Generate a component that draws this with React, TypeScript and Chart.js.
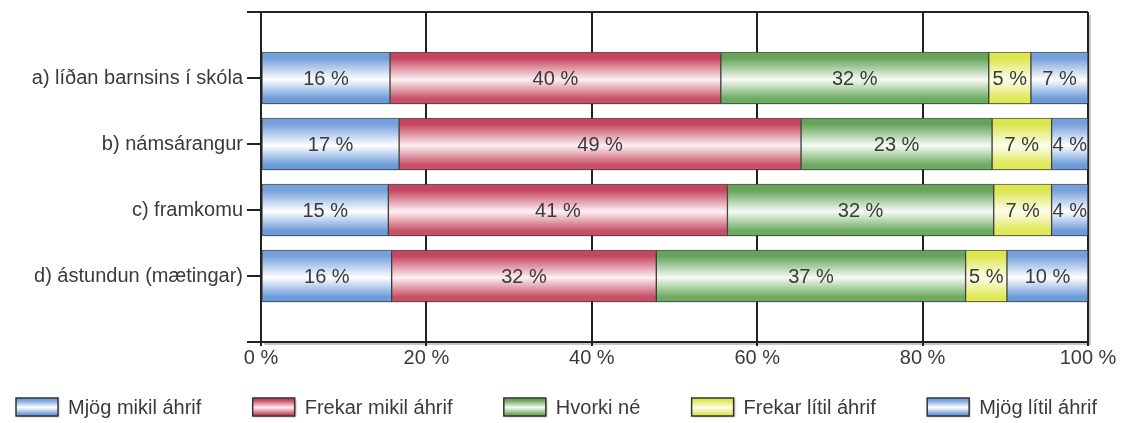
import React, { useEffect, useRef } from 'react';
import { Chart, registerables } from 'chart.js';

Chart.register(...registerables);

// ---------- data ----------
const categories = [
  'a) líðan barnsins í skóla',
  'b) námsárangur',
  'c) framkomu',
  'd) ástundun (mætingar)',
];
const seriesNames = [
  'Mjög mikil áhrif',
  'Frekar mikil áhrif',
  'Hvorki né',
  'Frekar lítil áhrif',
  'Mjög lítil áhrif',
];
const mjogMikil = [15.6, 16.7, 15.4, 15.8];
const frekarMikil = [40.0, 48.6, 41.0, 32.0];
const hvorkiNe = [32.4, 23.1, 32.2, 37.4];
const frekarLitil = [5.1, 7.2, 7.0, 5.0];
const mjogLitil = [6.9, 4.4, 4.4, 9.8];
const xTickValues = [0, 20, 40, 60, 80, 100];

// ---------- style ----------
const FONT = '"Liberation Sans", Arial, Helvetica, sans-serif';
const FS = 20;
const TEXT = '#3a3a3a';
const LINE = '#222222';
const BAR = 52;

type Pal = { top: string; mid: string; bot: string };
const palettes: Pal[] = [
  { top: '#76a0dc', mid: '#ffffff', bot: '#6c9bdb' },
  { top: '#c6465f', mid: '#fdf0f2', bot: '#c84f66' },
  { top: '#66a45b', mid: '#f6fbf4', bot: '#6cab61' },
  { top: '#dce64f', mid: '#fdfdec', bot: '#dfe855' },
  { top: '#76a0dc', mid: '#ffffff', bot: '#6c9bdb' },
];

const makeGrad = (ctx: CanvasRenderingContext2D, y0: number, y1: number, p: Pal) => {
  const g = ctx.createLinearGradient(0, y0, 0, y1);
  g.addColorStop(0, p.top);
  g.addColorStop(0.12, p.top);
  g.addColorStop(0.53, p.mid);
  g.addColorStop(0.9, p.bot);
  g.addColorStop(1, p.bot);
  return g;
};

const pad = (arr: number[]) => [null, ...arr, null];

const LEG_LEFT = 16;
const LEG_RIGHT = 1097;
const LEG_FROM_BOTTOM = 16;
const BOX_W = 42;
const BOX_H = 18;
const BOX_GAP = 10;

const shadowPlugin = {
  id: 'areaShadow',
  beforeDraw(chart: any) {
    const { ctx, chartArea: a } = chart;
    ctx.save();
    ctx.fillStyle = 'rgba(0,0,0,0.22)';
    ctx.fillRect(a.left + 3, a.top + 3, a.right - a.left, a.bottom - a.top);
    ctx.fillStyle = '#ffffff';
    ctx.fillRect(a.left, a.top, a.right - a.left, a.bottom - a.top);
    ctx.restore();
  },
  beforeDatasetsDraw(chart: any) {
    const ctx = chart.ctx;
    ctx.save();
    ctx.shadowColor = 'rgba(0,0,0,0.25)';
    ctx.shadowOffsetY = 2;
    ctx.shadowOffsetX = 1;
    ctx.shadowBlur = 2;
  },
  afterDatasetsDraw(chart: any) {
    chart.ctx.restore();
  },
};

const labelPlugin = {
  id: 'segLabels',
  afterDatasetsDraw(chart: any) {
    const ctx = chart.ctx;
    ctx.save();
    ctx.font = `${FS}px ${FONT}`;
    ctx.fillStyle = TEXT;
    ctx.textAlign = 'center';
    ctx.textBaseline = 'middle';
    chart.data.datasets.forEach((ds: any, di: number) => {
      const meta = chart.getDatasetMeta(di);
      meta.data.forEach((el: any, i: number) => {
        const v = ds.data[i];
        if (v === null || v === undefined) return;
        const c = el.getCenterPoint();
        ctx.fillText(`${Math.round(v)} %`, c.x, c.y + 1);
      });
    });
    ctx.restore();
  },
};

const legendPlugin = {
  id: 'customLegend',
  afterDraw(chart: any) {
    const ctx = chart.ctx;
    ctx.save();
    ctx.font = `${FS}px ${FONT}`;
    const items = chart.data.datasets.map((ds: any, i: number) => ({
      text: ds.label as string,
      w: ctx.measureText(ds.label).width,
      pal: palettes[i],
    }));
    const widths = items.map((it: any) => BOX_W + BOX_GAP + it.w);
    const total = widths.reduce((s: number, w: number) => s + w, 0);
    const gap = (LEG_RIGHT - LEG_LEFT - total) / (items.length - 1);
    const cy = chart.height - LEG_FROM_BOTTOM;
    let x = LEG_LEFT;
    items.forEach((it: any, i: number) => {
      const y0 = cy - BOX_H / 2;
      ctx.save();
      ctx.shadowColor = 'rgba(0,0,0,0.3)';
      ctx.shadowOffsetX = 1;
      ctx.shadowOffsetY = 1;
      ctx.shadowBlur = 2;
      ctx.fillStyle = makeGrad(ctx, y0, y0 + BOX_H, it.pal);
      ctx.fillRect(x, y0, BOX_W, BOX_H);
      ctx.restore();
      ctx.strokeStyle = '#333';
      ctx.lineWidth = 1.5;
      ctx.strokeRect(x, y0, BOX_W, BOX_H);
      ctx.fillStyle = TEXT;
      ctx.textAlign = 'left';
      ctx.textBaseline = 'middle';
      ctx.fillText(it.text, x + BOX_W + BOX_GAP, cy + 1);
      x += widths[i] + gap;
    });
    ctx.restore();
  },
};

export default function App() {
  const ref = useRef<HTMLCanvasElement | null>(null);

  useEffect(() => {
    if (!ref.current) return;
    Chart.defaults.font.family = FONT;
    Chart.defaults.font.size = FS;
    Chart.defaults.color = TEXT;

    const series = [mjogMikil, frekarMikil, hvorkiNe, frekarLitil, mjogLitil];
    const datasets = series.map((vals, si) => ({
      label: seriesNames[si],
      data: pad(vals),
      backgroundColor: (context: any) => {
        const p = palettes[si];
        const chart = context.chart;
        const y = chart.scales && chart.scales.y;
        if (context.type !== 'data' || !y || !chart.chartArea) return p.top;
        const yc = y.getPixelForValue(context.dataIndex);
        return makeGrad(chart.ctx, yc - BAR / 2, yc + BAR / 2, p);
      },
      borderColor: 'rgba(55,55,55,0.85)',
      borderWidth: 1,
      borderSkipped: false,
      barThickness: BAR,
    }));

    const chart = new Chart(ref.current, {
      type: 'bar',
      data: { labels: ['', ...categories, ''], datasets: datasets as any },
      options: {
        indexAxis: 'y',
        animation: false,
        responsive: false,
        maintainAspectRatio: false,
        layout: { padding: { left: 0, right: 35, top: 12, bottom: 56 } },
        plugins: {
          legend: { display: false },
          tooltip: { enabled: false },
        },
        scales: {
          x: {
            type: 'linear',
            stacked: true,
            min: 0,
            max: 100,
            afterBuildTicks: (s: any) => {
              s.ticks = xTickValues.map((v) => ({ value: v }));
            },
            afterFit: (s: any) => {
              s.height = 25;
              s.paddingLeft = 0;
              s.paddingRight = 0;
            },
            ticks: {
              callback: (v: any) => `${v} %`,
              color: TEXT,
              font: { size: FS, family: FONT },
              padding: 0,
              maxRotation: 0,
            },
            grid: {
              color: LINE,
              lineWidth: 2,
              tickLength: 4,
              drawOnChartArea: true,
            },
            border: { display: true, color: LINE, width: 2 },
          },
          y: {
            type: 'category',
            stacked: true,
            offset: false,
            afterFit: (s: any) => {
              s.width = 261;
              s.paddingTop = 0;
              s.paddingBottom = 0;
            },
            ticks: {
              color: TEXT,
              font: { size: FS, family: FONT },
              padding: 4,
              autoSkip: false,
            },
            grid: {
              offset: false,
              color: (c: any) => (c.index === 0 ? LINE : 'rgba(0,0,0,0)'),
              tickColor: LINE,
              lineWidth: 2,
              tickLength: 14,
              drawOnChartArea: true,
            },
            border: { display: true, color: LINE, width: 2 },
          },
        },
      },
      plugins: [shadowPlugin, labelPlugin, legendPlugin],
    });

    return () => chart.destroy();
  }, []);

  return (
    <div style={{ position: 'absolute', left: 0, top: 0, width: 1123, height: 423 }}>
      <canvas ref={ref} width={1123} height={423} style={{ display: 'block' }} />
    </div>
  );
}
